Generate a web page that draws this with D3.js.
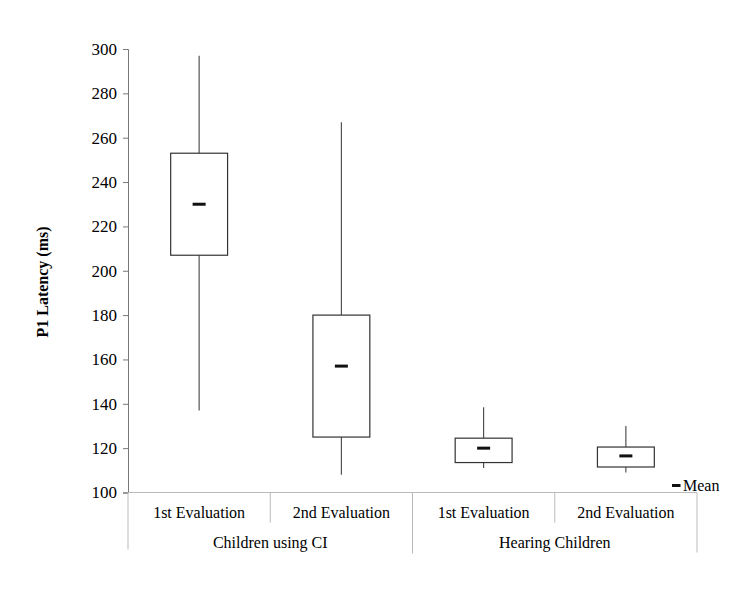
<!DOCTYPE html>
<html>
<head>
<meta charset="utf-8">
<script src="https://cdn.jsdelivr.net/npm/d3@7"></script>
<style>
  body { margin: 0; background: #fff; }
  svg text { font-family: "Liberation Serif", "Times New Roman", serif; }
</style>
</head>
<body>
<svg id="chart" width="748" height="591"></svg>
<script>
// chart values
const groups = ["Children using CI", "Hearing Children"];
const evaluations = ["1st Evaluation", "2nd Evaluation"];
const whiskerLow = [137, 108, 111, 109];
const q1 = [207, 125, 113.5, 111.5];
const means = [230, 157, 120, 116.5];
const q3 = [253, 180, 124.5, 120.5];
const whiskerHigh = [297, 267, 138.5, 130];
const yTicks = [100, 120, 140, 160, 180, 200, 220, 240, 260, 280, 300];

const svg = d3.select("#chart");
const margin = {top: 49, right: 51, bottom: 98, left: 128};
const width = +svg.attr("width");
const height = +svg.attr("height");

const boxes = [];
groups.forEach((g, gi) => evaluations.forEach((e, ei) => {
  const i = gi * evaluations.length + ei;
  boxes.push({key: i, group: g, evaluation: e,
    lo: whiskerLow[i], q1: q1[i], mean: means[i], q3: q3[i], hi: whiskerHigh[i]});
}));

const x = d3.scaleBand()
  .domain(boxes.map(d => d.key))
  .range([margin.left, width - margin.right])
  .padding(0);

const y = d3.scaleLinear()
  .domain([100, 300])
  .range([height - margin.bottom - 0.5, margin.top]);

// Y axis
const yAxis = svg.append("g")
  .attr("transform", `translate(${margin.left}, 0)`)
  .attr("font-family", "'Liberation Serif', serif")
  .call(d3.axisLeft(y).tickValues(yTicks).tickSize(5).tickPadding(6));
yAxis.attr("font-family", "'Liberation Serif', serif");
yAxis.select(".domain").attr("stroke", "#777");
yAxis.selectAll(".tick line").attr("stroke", "#777");
yAxis.selectAll(".tick text")
  .style("font-size", "17px")
  .attr("fill", "#000");

// category table below the plot
const base = y(100);
const table = svg.append("g").attr("stroke", "#bbb").attr("fill", "none");
table.append("line")
  .attr("x1", margin.left).attr("x2", width - margin.right)
  .attr("y1", base).attr("y2", base);
table.append("line")
  .attr("x1", margin.left).attr("x2", margin.left)
  .attr("y1", base).attr("y2", base + 57);
table.append("line")
  .attr("x1", width - margin.right).attr("x2", width - margin.right)
  .attr("y1", base).attr("y2", base + 60);
boxes.forEach(d => {
  if (d.key === 0) return;
  const isGroupEdge = d.key % evaluations.length === 0;
  table.append("line")
    .attr("x1", x(d.key)).attr("x2", x(d.key))
    .attr("y1", base).attr("y2", base + (isGroupEdge ? 61 : 30));
});

svg.append("g").selectAll("text")
  .data(boxes)
  .join("text")
  .attr("x", d => x(d.key) + x.bandwidth() / 2)
  .attr("y", base + 25)
  .attr("text-anchor", "middle")
  .style("font-size", "16px")
  .attr("fill", "#000")
  .text(d => d.evaluation);

svg.append("g").selectAll("text")
  .data(groups)
  .join("text")
  .attr("x", (g, gi) => {
    const first = x(gi * evaluations.length);
    const last = x((gi + 1) * evaluations.length - 1) + x.bandwidth();
    return (first + last) / 2;
  })
  .attr("y", base + 55)
  .attr("text-anchor", "middle")
  .style("font-size", "16px")
  .attr("fill", "#000")
  .text(g => g);

// boxes
const boxW = x.bandwidth() * 0.4;
const gBox = svg.append("g");
const cx = d => x(d.key) + x.bandwidth() / 2;

gBox.selectAll(".whisker-hi")
  .data(boxes)
  .join("line")
  .attr("x1", cx).attr("x2", cx)
  .attr("y1", d => y(d.q3)).attr("y2", d => y(d.hi))
  .attr("stroke", "#444").attr("stroke-width", 1.1);

gBox.selectAll(".whisker-lo")
  .data(boxes)
  .join("line")
  .attr("x1", cx).attr("x2", cx)
  .attr("y1", d => y(d.q1)).attr("y2", d => y(d.lo))
  .attr("stroke", "#444").attr("stroke-width", 1.1);

gBox.selectAll("rect")
  .data(boxes)
  .join("rect")
  .attr("x", d => cx(d) - boxW / 2)
  .attr("width", boxW)
  .attr("y", d => y(d.q3))
  .attr("height", d => y(d.q1) - y(d.q3))
  .attr("fill", "#fff")
  .attr("stroke", "#333")
  .attr("stroke-width", 1.2);

gBox.selectAll(".mean")
  .data(boxes)
  .join("rect")
  .attr("x", d => cx(d) - 6.5)
  .attr("width", 13)
  .attr("y", d => y(d.mean) - 1.5)
  .attr("height", 3)
  .attr("fill", "#111");

// legend
const legend = svg.append("g").attr("transform", `translate(672, ${base - 7})`);
legend.append("rect")
  .attr("x", 0).attr("y", -1.5)
  .attr("width", 8.5).attr("height", 3)
  .attr("fill", "#111");
legend.append("text")
  .attr("x", 11).attr("y", 5.5)
  .style("font-size", "16px")
  .attr("fill", "#000")
  .text("Mean");

// y label
svg.append("text")
  .attr("transform", "rotate(-90)")
  .attr("x", -282)
  .attr("y", 48)
  .attr("text-anchor", "middle")
  .style("font-size", "16px")
  .style("font-weight", "bold")
  .attr("fill", "#000")
  .text("P1 Latency (ms)");
</script>
</body>
</html>
